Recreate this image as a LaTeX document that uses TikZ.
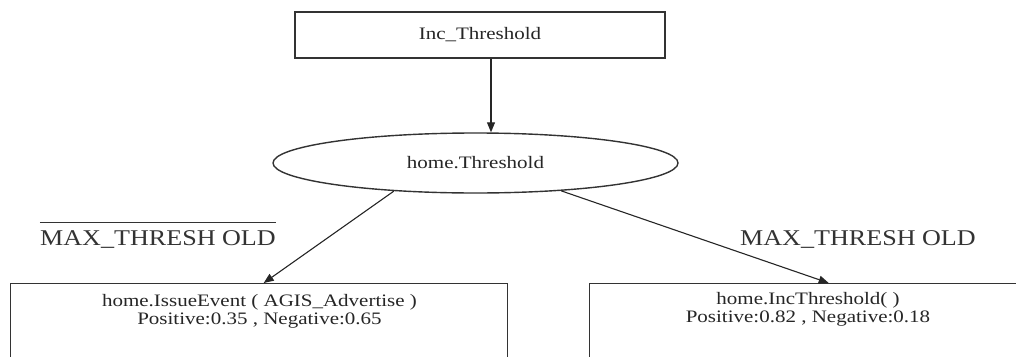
\documentclass[tikz,border=0pt]{standalone}
\usepackage{fontspec}
\setmainfont{Liberation Serif}
\newfontfamily\nodefont[FakeStretch=1.2]{Liberation Serif}
\newfontfamily\edgefont[FakeStretch=1.16]{Liberation Serif}
\usetikzlibrary{arrows.meta,shapes.geometric,calc}

\begin{document}
\begin{tikzpicture}[x=1pt,y=-1pt,
  frame/.style={draw=black!80,line width=1.4pt,rectangle,inner sep=0pt},
  oval/.style={draw=black!80,line width=1.4pt,ellipse,inner sep=0pt,
    minimum width=405pt,minimum height=60pt},
  txt/.style={font=\nodefont\fontsize{17.5}{19}\selectfont,inner sep=0pt,text=black!85},
  lbl/.style={font=\edgefont\fontsize{22.5}{26}\selectfont,inner sep=0pt,text=black!80},
  conn/.style={draw=black!85,line width=1.1pt,-{Triangle[length=10pt,width=8pt]}}]

% canvas
\fill[white] (0,0) rectangle (1016,356);
\clip (0,0) rectangle (1016,356);

% nodes
\node[frame,txt,draw=black!80,minimum width=370pt,minimum height=46pt] (inc) at (480,35) {Inc\_Threshold};
\node[oval,txt,draw=black!80] (ell) at (475.5,163) {home.Threshold};
\node[frame,anchor=north west,minimum width=497pt,minimum height=120pt] (lb) at (10,283) {};
\node[frame,anchor=north west,minimum width=441pt,minimum height=120pt] (rb) at (589,283) {};

% box contents
\node[txt,anchor=base] (lb1) at (259.5,306) {home.IssueEvent ( AGIS\_Advertise )};
\node[txt,anchor=base] (lb2) at (259.5,324) {Positive:0.35 , Negative:0.65};
\node[txt,anchor=base] (rb1) at (808,304) {home.IncThreshold( )};
\node[txt,anchor=base] (rb2) at (808,322) {Positive:0.82 , Negative:0.18};

% connectors
\draw[conn] ($(inc.south)+(11,0)$) -- ($(inc.south |- ell.north)+(11,0)$);
\draw[conn] (ell.199.9) -- ($(lb.north)+(4.5,0)$);
\draw[conn] (ell.342.3) -- ($(rb.north)+(18.5,0)$);

% edge labels
\node[lbl,anchor=base] (l1) at (158,245) {MAX\_THRESH OLD};
\draw[line width=1pt,black!80] ([yshift=7pt]l1.north west) -- ([yshift=7pt]l1.north east);
\node[lbl,anchor=base] (l2) at (858,245) {MAX\_THRESH OLD};
\end{tikzpicture}
\end{document}
